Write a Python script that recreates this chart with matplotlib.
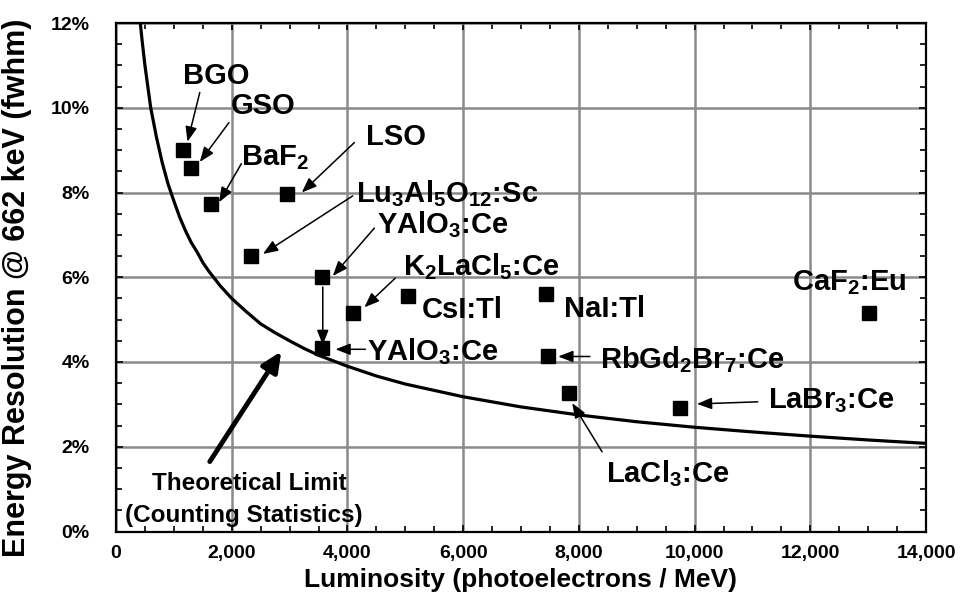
import matplotlib
matplotlib.use("Agg")
import matplotlib.pyplot as plt
from matplotlib.ticker import MultipleLocator, FuncFormatter

plt.rcParams['font.family'] = ['Liberation Sans', 'DejaVu Sans']
plt.rcParams['font.weight'] = 'bold'
plt.rcParams['mathtext.fontset'] = 'custom'
plt.rcParams['mathtext.bf'] = 'Liberation Sans:bold'
plt.rcParams['mathtext.rm'] = 'Liberation Sans:bold'
plt.rcParams['mathtext.default'] = 'bf'

# ---- data ----
crystals = ['BGO', 'GSO', 'BaF2', 'LSO', 'Lu3Al5O12:Sc', 'YAlO3:Ce (before)',
            'K2LaCl5:Ce', 'CsI:Tl', 'NaI:Tl', 'YAlO3:Ce', 'RbGd2Br7:Ce',
            'LaCl3:Ce', 'LaBr3:Ce', 'CaF2:Eu']
luminosity = [1150, 1300, 1650, 2960, 2340, 3560, 4090, 5050, 7440, 3560,
              7470, 7830, 9740, 13020]
resolution = [9.00, 8.58, 7.73, 7.97, 6.50, 6.00, 5.15, 5.56, 5.60, 4.34,
              4.14, 3.26, 2.91, 5.15]

# theoretical limit curve
limit_lum = [420, 450, 500, 550, 600, 650, 700, 800, 900, 1000, 1100, 1200,
             1300, 1400, 1500, 1600, 1800, 2000, 2250, 2500, 2750, 3000, 3250,
             3500, 4000, 4500, 5000, 6000, 7000, 8000, 9000, 10000, 11000,
             12000, 13000, 14000]
limit_res = [12.0, 11.6, 11.0, 10.5, 10.0, 9.65, 9.3, 8.7, 8.2, 7.8, 7.42,
             7.1, 6.82, 6.6, 6.35, 6.15, 5.8, 5.5, 5.19, 4.9, 4.69, 4.5, 4.32,
             4.16, 3.9, 3.67, 3.48, 3.18, 2.94, 2.75, 2.59, 2.46, 2.35, 2.25,
             2.16, 2.08]

x_ticks = [0, 2000, 4000, 6000, 8000, 10000, 12000, 14000]
y_ticks = [0, 2, 4, 6, 8, 10, 12]

fig = plt.figure(figsize=(9.6, 5.97), dpi=100)
ax = fig.add_axes([116 / 960, 65.5 / 597, 810 / 960, 508.5 / 597])

ax.set_xlim(0, 14000)
ax.set_ylim(0, 12)
ax.set_xticks(x_ticks)
ax.set_yticks(y_ticks)
ax.xaxis.set_minor_locator(MultipleLocator(500))
ax.yaxis.set_minor_locator(MultipleLocator(0.5))
ax.xaxis.set_major_formatter(FuncFormatter(lambda v, p: f"{v:,.0f}"))
ax.yaxis.set_major_formatter(FuncFormatter(lambda v, p: f"{v:.0f}%"))

ax.grid(True, which='major', color='#8a8a8a', lw=1.8)
ax.set_axisbelow(True)
ax.tick_params(which='both', direction='in', top=True, right=True,
               width=1.2, color='black')
ax.tick_params(which='major', length=5)
ax.tick_params(which='minor', length=4)
ax.tick_params(axis='y', which='major', pad=19, labelsize=14)
ax.tick_params(axis='x', which='major', pad=10, labelsize=14)
for lab in ax.get_xticklabels() + ax.get_yticklabels():
    lab.set_fontweight('bold')
    lab.set_fontsize(14)
for s in ax.spines.values():
    s.set_linewidth(1.6)

ax.set_xlabel('Luminosity (photoelectrons / MeV)', fontsize=19,
              fontweight='bold', labelpad=4)
ax.set_ylabel('Energy Resolution @ 662 keV (fwhm)', fontsize=22,
              fontweight='bold')
ax.yaxis.set_label_coords(-0.104, 0.48)

ax.plot(limit_lum, limit_res, color='black', lw=2.3, zorder=3,
        solid_joinstyle='round')
ax.plot(luminosity, resolution, 's', color='black', markersize=9.5,
        zorder=4, clip_on=False)

fs = 21
texts = [
    ('BGO', 1150, 10.55, 'left'),
    ('GSO', 1983, 9.86, 'left'),
    ('BaF$_2$', 2167, 8.65, 'left'),
    ('LSO', 4322, 9.13, 'left'),
    ('Lu$_3$Al$_5$O$_{12}$:Sc', 4150, 7.76, 'left'),
    ('YAlO$_3$:Ce', 4517, 7.05, 'left'),
    ('K$_2$LaCl$_5$:Ce', 4966, 6.06, 'left'),
    ('CsI:Tl', 5288, 5.04, 'left'),
    ('NaI:Tl', 7741, 5.07, 'left'),
    ('YAlO$_3$:Ce', 4345, 4.05, 'left'),
    ('RbGd$_2$Br$_7$:Ce', 8374, 3.86, 'left'),
    ('LaBr$_3$:Ce', 11264, 2.92, 'left'),
    ('CaF$_2$:Eu', 11678, 5.70, 'left'),
    ('LaCl$_3$:Ce', 8466, 1.17, 'left'),
]
for t, x, y, ha in texts:
    ax.text(x, y, t, fontsize=fs, fontweight='bold', ha=ha, va='baseline',
            zorder=5)

arrows = [
    ((1448, 10.36), (1236, 9.20)),
    ((1953, 9.65), (1448, 8.72)),
    ((2167, 8.68), (1781, 7.77)),
    ((4121, 9.18), (3212, 8.00)),
    ((4091, 7.92), (2540, 6.55)),
    ((4466, 7.16), (3747, 6.03)),
    ((4828, 5.98), (4293, 5.29)),
    ((4310, 4.30), (3793, 4.30)),
    ((3574, 5.77), (3574, 4.40)),
    ((8190, 4.13), (7643, 4.13)),
    ((11091, 3.06), (10040, 3.01)),
    ((8402, 1.88), (7885, 3.03)),
]
for tail, head in arrows:
    ax.annotate('', xy=head, xytext=tail,
                arrowprops=dict(arrowstyle='-|>,head_length=0.9,head_width=0.35',
                                color='black', lw=1.1, shrinkA=0, shrinkB=0),
                zorder=5)

# theoretical limit label and thick arrow
ax.text(614, 0.98, 'Theoretical Limit', fontsize=17.5,
        fontweight='bold', ha='left', va='baseline')
ax.text(155, 0.23, '(Counting Statistics)', fontsize=17.5,
        fontweight='bold', ha='left', va='baseline')
ax.annotate('', xy=(2857, 4.25), xytext=(1621, 1.65),
            arrowprops=dict(arrowstyle='-|>,head_length=1.2,head_width=0.55',
                            color='black', lw=3.5, shrinkA=0, shrinkB=0),
            zorder=5)

fig.savefig('out.png', dpi=100)
